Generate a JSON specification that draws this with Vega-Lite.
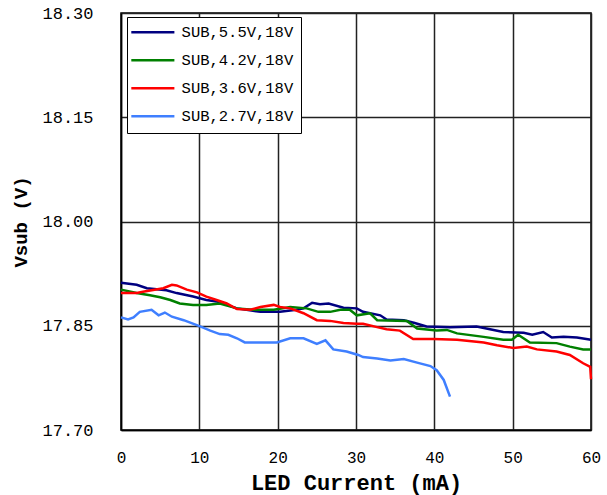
{
  "$schema": "https://vega.github.io/schema/vega-lite/v6.json",
  "autosize": {"type": "none"},
  "width": 470,
  "height": 417,
  "padding": {"left": 121, "top": 13, "right": 16, "bottom": 65},
  "background": "white",
  "config": {
    "view": {"stroke": "#000", "strokeWidth": 1.5},
    "axis": {
      "labelFont": "Liberation Mono",
      "labelFontSize": 16,
      "labelColor": "#000",
      "titleFont": "Liberation Mono",
      "titleFontWeight": "bold",
      "titleColor": "#000",
      "gridColor": "#222",
      "gridWidth": 1.5,
      "gridOpacity": 1,
      "domainColor": "#000",
      "domainWidth": 1.5,
      "ticks": false
    }
  },
  "data": {"values": [
    {"series": "SUB,5.5V,18V", "current": 0, "vsub": 17.912},
    {"series": "SUB,5.5V,18V", "current": 2, "vsub": 17.909},
    {"series": "SUB,5.5V,18V", "current": 3.3, "vsub": 17.904},
    {"series": "SUB,5.5V,18V", "current": 5.8, "vsub": 17.901},
    {"series": "SUB,5.5V,18V", "current": 7.1, "vsub": 17.897},
    {"series": "SUB,5.5V,18V", "current": 9.2, "vsub": 17.892},
    {"series": "SUB,5.5V,18V", "current": 10.9, "vsub": 17.887},
    {"series": "SUB,5.5V,18V", "current": 12.2, "vsub": 17.885},
    {"series": "SUB,5.5V,18V", "current": 14.8, "vsub": 17.875},
    {"series": "SUB,5.5V,18V", "current": 17.8, "vsub": 17.870},
    {"series": "SUB,5.5V,18V", "current": 20.3, "vsub": 17.870},
    {"series": "SUB,5.5V,18V", "current": 22.4, "vsub": 17.873},
    {"series": "SUB,5.5V,18V", "current": 23.3, "vsub": 17.875},
    {"series": "SUB,5.5V,18V", "current": 24.4, "vsub": 17.883},
    {"series": "SUB,5.5V,18V", "current": 25.4, "vsub": 17.881},
    {"series": "SUB,5.5V,18V", "current": 26.5, "vsub": 17.882},
    {"series": "SUB,5.5V,18V", "current": 28.4, "vsub": 17.876},
    {"series": "SUB,5.5V,18V", "current": 30.1, "vsub": 17.875},
    {"series": "SUB,5.5V,18V", "current": 30.9, "vsub": 17.870},
    {"series": "SUB,5.5V,18V", "current": 33.1, "vsub": 17.865},
    {"series": "SUB,5.5V,18V", "current": 33.9, "vsub": 17.859},
    {"series": "SUB,5.5V,18V", "current": 36.1, "vsub": 17.858},
    {"series": "SUB,5.5V,18V", "current": 37.5, "vsub": 17.854},
    {"series": "SUB,5.5V,18V", "current": 39, "vsub": 17.849},
    {"series": "SUB,5.5V,18V", "current": 42, "vsub": 17.848},
    {"series": "SUB,5.5V,18V", "current": 45.4, "vsub": 17.849},
    {"series": "SUB,5.5V,18V", "current": 47.1, "vsub": 17.845},
    {"series": "SUB,5.5V,18V", "current": 48.8, "vsub": 17.841},
    {"series": "SUB,5.5V,18V", "current": 51.4, "vsub": 17.840},
    {"series": "SUB,5.5V,18V", "current": 52.5, "vsub": 17.837},
    {"series": "SUB,5.5V,18V", "current": 53.9, "vsub": 17.841},
    {"series": "SUB,5.5V,18V", "current": 55, "vsub": 17.833},
    {"series": "SUB,5.5V,18V", "current": 56.5, "vsub": 17.834},
    {"series": "SUB,5.5V,18V", "current": 58.2, "vsub": 17.833},
    {"series": "SUB,5.5V,18V", "current": 60, "vsub": 17.830},

    {"series": "SUB,4.2V,18V", "current": 0, "vsub": 17.902},
    {"series": "SUB,4.2V,18V", "current": 2, "vsub": 17.897},
    {"series": "SUB,4.2V,18V", "current": 3.7, "vsub": 17.894},
    {"series": "SUB,4.2V,18V", "current": 5, "vsub": 17.891},
    {"series": "SUB,4.2V,18V", "current": 6.3, "vsub": 17.887},
    {"series": "SUB,4.2V,18V", "current": 7.5, "vsub": 17.882},
    {"series": "SUB,4.2V,18V", "current": 9.2, "vsub": 17.880},
    {"series": "SUB,4.2V,18V", "current": 10.9, "vsub": 17.880},
    {"series": "SUB,4.2V,18V", "current": 12.6, "vsub": 17.882},
    {"series": "SUB,4.2V,18V", "current": 14.8, "vsub": 17.875},
    {"series": "SUB,4.2V,18V", "current": 16.9, "vsub": 17.873},
    {"series": "SUB,4.2V,18V", "current": 19.5, "vsub": 17.873},
    {"series": "SUB,4.2V,18V", "current": 21.6, "vsub": 17.877},
    {"series": "SUB,4.2V,18V", "current": 23.7, "vsub": 17.875},
    {"series": "SUB,4.2V,18V", "current": 25.2, "vsub": 17.870},
    {"series": "SUB,4.2V,18V", "current": 26.7, "vsub": 17.870},
    {"series": "SUB,4.2V,18V", "current": 28, "vsub": 17.873},
    {"series": "SUB,4.2V,18V", "current": 29.2, "vsub": 17.873},
    {"series": "SUB,4.2V,18V", "current": 30.1, "vsub": 17.865},
    {"series": "SUB,4.2V,18V", "current": 31.8, "vsub": 17.868},
    {"series": "SUB,4.2V,18V", "current": 32.7, "vsub": 17.858},
    {"series": "SUB,4.2V,18V", "current": 36.5, "vsub": 17.857},
    {"series": "SUB,4.2V,18V", "current": 37.8, "vsub": 17.846},
    {"series": "SUB,4.2V,18V", "current": 40.3, "vsub": 17.843},
    {"series": "SUB,4.2V,18V", "current": 41.6, "vsub": 17.844},
    {"series": "SUB,4.2V,18V", "current": 42.9, "vsub": 17.839},
    {"series": "SUB,4.2V,18V", "current": 46.3, "vsub": 17.834},
    {"series": "SUB,4.2V,18V", "current": 48.8, "vsub": 17.830},
    {"series": "SUB,4.2V,18V", "current": 49.9, "vsub": 17.830},
    {"series": "SUB,4.2V,18V", "current": 50.7, "vsub": 17.837},
    {"series": "SUB,4.2V,18V", "current": 52.2, "vsub": 17.826},
    {"series": "SUB,4.2V,18V", "current": 55.6, "vsub": 17.825},
    {"series": "SUB,4.2V,18V", "current": 57.3, "vsub": 17.820},
    {"series": "SUB,4.2V,18V", "current": 59, "vsub": 17.816},
    {"series": "SUB,4.2V,18V", "current": 60, "vsub": 17.816},

    {"series": "SUB,3.6V,18V", "current": 0, "vsub": 17.897},
    {"series": "SUB,3.6V,18V", "current": 2, "vsub": 17.897},
    {"series": "SUB,3.6V,18V", "current": 2.8, "vsub": 17.899},
    {"series": "SUB,3.6V,18V", "current": 5.4, "vsub": 17.904},
    {"series": "SUB,3.6V,18V", "current": 6.5, "vsub": 17.909},
    {"series": "SUB,3.6V,18V", "current": 7.1, "vsub": 17.908},
    {"series": "SUB,3.6V,18V", "current": 8.4, "vsub": 17.902},
    {"series": "SUB,3.6V,18V", "current": 9.7, "vsub": 17.898},
    {"series": "SUB,3.6V,18V", "current": 10.9, "vsub": 17.892},
    {"series": "SUB,3.6V,18V", "current": 12.2, "vsub": 17.887},
    {"series": "SUB,3.6V,18V", "current": 13.5, "vsub": 17.882},
    {"series": "SUB,3.6V,18V", "current": 14.8, "vsub": 17.874},
    {"series": "SUB,3.6V,18V", "current": 16.5, "vsub": 17.873},
    {"series": "SUB,3.6V,18V", "current": 17.8, "vsub": 17.877},
    {"series": "SUB,3.6V,18V", "current": 19.5, "vsub": 17.880},
    {"series": "SUB,3.6V,18V", "current": 20.3, "vsub": 17.877},
    {"series": "SUB,3.6V,18V", "current": 21.6, "vsub": 17.875},
    {"series": "SUB,3.6V,18V", "current": 23.3, "vsub": 17.868},
    {"series": "SUB,3.6V,18V", "current": 25, "vsub": 17.858},
    {"series": "SUB,3.6V,18V", "current": 26.7, "vsub": 17.857},
    {"series": "SUB,3.6V,18V", "current": 28.4, "vsub": 17.854},
    {"series": "SUB,3.6V,18V", "current": 30.1, "vsub": 17.853},
    {"series": "SUB,3.6V,18V", "current": 30.9, "vsub": 17.853},
    {"series": "SUB,3.6V,18V", "current": 32.7, "vsub": 17.848},
    {"series": "SUB,3.6V,18V", "current": 33.9, "vsub": 17.845},
    {"series": "SUB,3.6V,18V", "current": 35.6, "vsub": 17.843},
    {"series": "SUB,3.6V,18V", "current": 37.3, "vsub": 17.831},
    {"series": "SUB,3.6V,18V", "current": 39.9, "vsub": 17.831},
    {"series": "SUB,3.6V,18V", "current": 42.9, "vsub": 17.830},
    {"series": "SUB,3.6V,18V", "current": 46.3, "vsub": 17.826},
    {"series": "SUB,3.6V,18V", "current": 48, "vsub": 17.822},
    {"series": "SUB,3.6V,18V", "current": 50.1, "vsub": 17.818},
    {"series": "SUB,3.6V,18V", "current": 51.8, "vsub": 17.820},
    {"series": "SUB,3.6V,18V", "current": 53.1, "vsub": 17.816},
    {"series": "SUB,3.6V,18V", "current": 55.6, "vsub": 17.813},
    {"series": "SUB,3.6V,18V", "current": 57.3, "vsub": 17.808},
    {"series": "SUB,3.6V,18V", "current": 59, "vsub": 17.796},
    {"series": "SUB,3.6V,18V", "current": 59.9, "vsub": 17.791},
    {"series": "SUB,3.6V,18V", "current": 60, "vsub": 17.773},

    {"series": "SUB,2.7V,18V", "current": 0, "vsub": 17.862},
    {"series": "SUB,2.7V,18V", "current": 0.9, "vsub": 17.859},
    {"series": "SUB,2.7V,18V", "current": 1.6, "vsub": 17.862},
    {"series": "SUB,2.7V,18V", "current": 2.4, "vsub": 17.870},
    {"series": "SUB,2.7V,18V", "current": 3.9, "vsub": 17.873},
    {"series": "SUB,2.7V,18V", "current": 4.8, "vsub": 17.865},
    {"series": "SUB,2.7V,18V", "current": 5.6, "vsub": 17.869},
    {"series": "SUB,2.7V,18V", "current": 6.5, "vsub": 17.863},
    {"series": "SUB,2.7V,18V", "current": 8, "vsub": 17.858},
    {"series": "SUB,2.7V,18V", "current": 10.1, "vsub": 17.849},
    {"series": "SUB,2.7V,18V", "current": 11.4, "vsub": 17.843},
    {"series": "SUB,2.7V,18V", "current": 12.6, "vsub": 17.838},
    {"series": "SUB,2.7V,18V", "current": 13.7, "vsub": 17.837},
    {"series": "SUB,2.7V,18V", "current": 14.8, "vsub": 17.832},
    {"series": "SUB,2.7V,18V", "current": 15.8, "vsub": 17.826},
    {"series": "SUB,2.7V,18V", "current": 19.9, "vsub": 17.826},
    {"series": "SUB,2.7V,18V", "current": 21.6, "vsub": 17.832},
    {"series": "SUB,2.7V,18V", "current": 23.3, "vsub": 17.832},
    {"series": "SUB,2.7V,18V", "current": 25, "vsub": 17.824},
    {"series": "SUB,2.7V,18V", "current": 26.1, "vsub": 17.829},
    {"series": "SUB,2.7V,18V", "current": 27.1, "vsub": 17.816},
    {"series": "SUB,2.7V,18V", "current": 28.8, "vsub": 17.813},
    {"series": "SUB,2.7V,18V", "current": 30.3, "vsub": 17.808},
    {"series": "SUB,2.7V,18V", "current": 30.9, "vsub": 17.805},
    {"series": "SUB,2.7V,18V", "current": 32.7, "vsub": 17.803},
    {"series": "SUB,2.7V,18V", "current": 34.4, "vsub": 17.800},
    {"series": "SUB,2.7V,18V", "current": 36.1, "vsub": 17.802},
    {"series": "SUB,2.7V,18V", "current": 37.8, "vsub": 17.797},
    {"series": "SUB,2.7V,18V", "current": 39.5, "vsub": 17.792},
    {"series": "SUB,2.7V,18V", "current": 40.3, "vsub": 17.786},
    {"series": "SUB,2.7V,18V", "current": 41.2, "vsub": 17.772},
    {"series": "SUB,2.7V,18V", "current": 42, "vsub": 17.748}
  ]},
  "mark": {"type": "line", "strokeWidth": 2.5, "interpolate": "linear"},
  "encoding": {
    "x": {
      "field": "current", "type": "quantitative",
      "scale": {"domain": [0, 60], "nice": false, "zero": false},
      "axis": {"values": [0, 10, 20, 30, 40, 50, 60], "title": "LED Current (mA)", "titleFontSize": 22, "labelPadding": 19, "titlePadding": 7, "labelFlush": false}
    },
    "y": {
      "field": "vsub", "type": "quantitative",
      "scale": {"domain": [17.7, 18.3], "nice": false, "zero": false},
      "axis": {"values": [17.7, 17.85, 18.0, 18.15, 18.3], "format": ".2f", "title": "Vsub (V)", "titleFontSize": 19, "labelFontSize": 17, "labelPadding": 28, "titlePadding": 11}
    },
    "color": {
      "field": "series", "type": "nominal",
      "scale": {
        "domain": ["SUB,5.5V,18V", "SUB,4.2V,18V", "SUB,3.6V,18V", "SUB,2.7V,18V"],
        "range": ["#000080", "#008000", "#ff0000", "#3f7fff"]
      },
      "legend": {
        "title": null,
        "orient": "none",
        "legendX": 6,
        "legendY": 4,
        "strokeColor": "#000",
        "fillColor": "white",
        "padding": 7.5,
        "symbolType": "M-4,0H4",
        "symbolSize": 116,
        "symbolStrokeWidth": 2.5,
        "symbolOffset": 10.6,
        "labelFont": "Liberation Mono",
        "labelFontSize": 15.5,
        "labelColor": "#000",
        "labelOffset": 21,
        "labelExpr": "datum.label + '\u00a0\u00a0\u00a0'",
        "rowPadding": 11
      }
    },
    "order": {"field": "series", "type": "nominal"}
  }
}
